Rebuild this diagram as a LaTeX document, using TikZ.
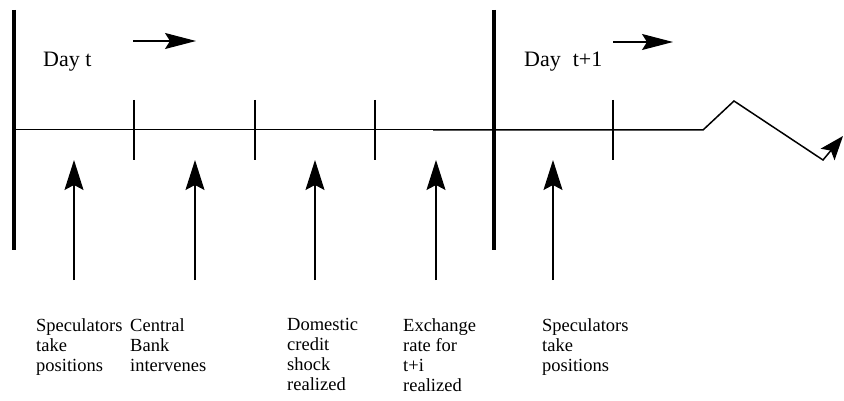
\documentclass[tikz,border=0pt]{standalone}
\usepackage{fontspec}
\setmainfont{Liberation Serif}
\newfontfamily\timesfont{Liberation Serif}
\usetikzlibrary{arrows.meta}

\tikzset{
  daybar/.style={line width=4pt},
  tick/.style={line width=1.2pt},
  evarrow/.style={line width=1.2pt, -{Stealth[length=30pt, width=19pt, inset=5pt]}},
  dayarrow/.style={line width=1.2pt, -{Stealth[length=31pt, width=16pt, inset=5pt]}},
  evlabel/.style={anchor=north west, inner sep=0pt, align=left, font=\timesfont\fontsize{18.5}{20}\selectfont},
  daylabel/.style={anchor=base west, inner sep=0pt, font=\timesfont\fontsize{22}{24}\selectfont}
}

\begin{document}
\begin{tikzpicture}[x=1pt, y=-1pt]
        \useasboundingbox (0,0) rectangle (844,401);
        % the two days
        \draw [daybar] (14,10) to (14,250);
        \draw [daybar] (494,10) to (494,250);
        \node [daylabel] (dayt) at (43,67) {Day t};
        \node [daylabel] (daytt) at (524,67) {Day\hspace{12pt}t+1};
        \coordinate (dayt from) at (133,41);\coordinate (dayt to) at (196,41);
        \coordinate (daytt from) at (613,42);\coordinate (daytt to) at (673,42);
        \draw [dayarrow] (dayt from) to (dayt to);
        \draw [dayarrow] (daytt from) to (daytt to);
        % time line
        \coordinate (start) at (14,130);\coordinate (mid) at (433,130);
        \coordinate (kink) at (703,130);\coordinate (peak) at (734,101);
        \coordinate (dip) at (823,160);\coordinate (end) at (843,136);
        \draw [line width=1pt] (start) to (mid);
        \draw [line width=1.5pt, -{Stealth[length=24pt, width=18pt, inset=5pt]}] (mid) -- (kink) -- (peak) -- (dip) -- (end);
        \foreach \x in {134, 255, 375, 613} {
            \draw [tick] (\x,100) to (\x,160);
        }
        % events
        \foreach \x/\name in {74/spec, 195/bank, 315/shock, 436/rate, 553/specnext} {
            \coordinate (\name bot) at (\x,280);
            \coordinate (\name top) at (\x,160);
            \draw [evarrow] (\name bot) to (\name top);
        }
        \node [evlabel] (spec) at (36,318) {Speculators\\take\\positions};
        \node [evlabel] (bank) at (130,318) {Central\\Bank\\intervenes};
        \node [evlabel] (shock) at (287,318) {Domestic\\credit\\shock\\realized};
        \node [evlabel] (rate) at (403,318) {Exchange\\rate for\\t+i\\realized};
        \node [evlabel] (specnext) at (542,318) {Speculators\\take\\positions};
    \end{tikzpicture}
\end{document}
